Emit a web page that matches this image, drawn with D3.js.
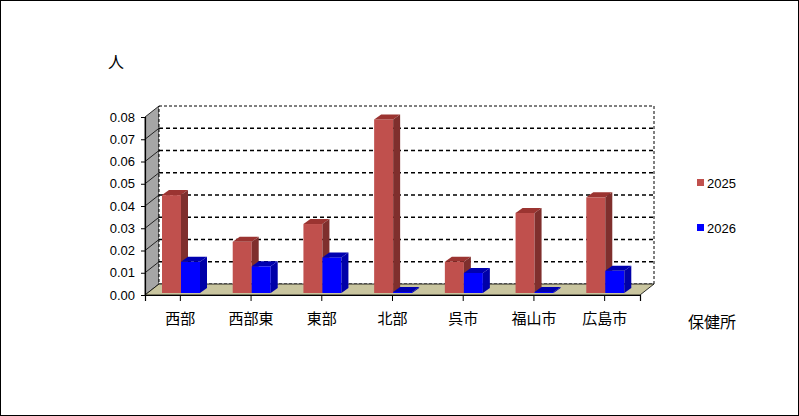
<!DOCTYPE html>
<html><head><meta charset="utf-8">
<script src="https://cdn.jsdelivr.net/npm/d3@7"></script>
<style>body{margin:0;background:#fff}text{font-family:Arial,"Liberation Sans","Noto Sans CJK JP",sans-serif}</style>
</head><body><svg width="799" height="416"></svg>
<script>
// data
var categories = ["西部", "西部東", "東部", "北部", "呉市", "福山市", "広島市"];
var v2025 = [0.044, 0.023, 0.031, 0.078, 0.014, 0.036, 0.043];
var v2026 = [0.014, 0.012, 0.016, 0, 0.009, 0, 0.010];
var yTicks = [0, 0.01, 0.02, 0.03, 0.04, 0.05, 0.06, 0.07, 0.08];

var svg = d3.select("svg");
svg.append("rect").attr("x", 0.5).attr("y", 0.5).attr("width", 798).attr("height", 415)
   .attr("fill", "#fff").attr("stroke", "#000");

var x0 = 145, x1 = 640;
var dx = 14, dy = -11;
var x = d3.scaleBand().domain(categories).range([x0, x1]);
var y = d3.scaleLinear().domain([0, 0.08]).range([295, 117]);

// left wall
svg.append("path").attr("fill", "#a6a6a6").attr("stroke", "#000").attr("stroke-width", 0.8)
   .attr("d", "M" + x0 + "," + y(0) + "L" + x0 + "," + y(0.08) + "L" + (x0 + dx) + "," + (y(0.08) + dy) + "L" + (x0 + dx) + "," + (y(0) + dy) + "Z");
// back wall
svg.append("rect").attr("x", x0 + dx).attr("y", y(0.08) + dy).attr("width", x1 - x0)
   .attr("height", y(0) - y(0.08)).attr("fill", "#fff").attr("stroke", "#000").attr("stroke-dasharray", "3,2");
// floor
svg.append("path").attr("fill", "#c9c59f").attr("stroke", "#000").attr("stroke-width", 0.8)
   .attr("d", "M" + x0 + "," + y(0) + "L" + x1 + "," + y(0) + "L" + (x1 + dx) + "," + (y(0) + dy) + "L" + (x0 + dx) + "," + (y(0) + dy) + "Z");

// grid lines
yTicks.slice(1, -1).forEach(function (t) {
  svg.append("line").attr("x1", x0 + dx).attr("x2", x1 + dx)
     .attr("y1", y(t) + dy).attr("y2", y(t) + dy)
     .attr("stroke", "#000").attr("stroke-width", 1.3).attr("stroke-dasharray", "4,3");
  svg.append("line").attr("x1", x0).attr("x2", x0 + dx)
     .attr("y1", y(t)).attr("y2", y(t) + dy).attr("stroke", "#000").attr("stroke-width", 0.8);
});

// axes
svg.append("g").attr("transform", "translate(" + x0 + ",0)")
   .call(d3.axisLeft(y).tickValues(yTicks).tickFormat(d3.format(".2f")).tickSize(4))
   .call(function (g) {
     g.selectAll("text").attr("font-size", 13).attr("fill", "#000").attr("dx", -3);
     g.select(".domain").attr("stroke-width", 1.2);
   });
svg.append("g").attr("transform", "translate(0," + y(0) + ")")
   .call(d3.axisBottom(x).tickSize(6).tickFormat(""))
   .call(function (g) { g.select(".domain").attr("stroke-width", 1.2); });

// bars
var bw = 19, depth = 7, off = 5;
function bar3d(cx, v, front, top, side) {
  var g = svg.append("g");
  var y0 = y(0) - 2, y1 = y(v) - 2 + (v === 0 ? -1 : 0);
  g.append("rect").attr("x", cx).attr("y", y1).attr("width", bw).attr("height", y0 - y1).attr("fill", front);
  g.append("path").attr("fill", top)
   .attr("d", "M" + cx + "," + y1 + "l" + depth + "," + (-off) + "l" + bw + ",0l" + (-depth) + "," + off + "Z");
  g.append("path").attr("fill", side)
   .attr("d", "M" + (cx + bw) + "," + y1 + "l" + depth + "," + (-off) + "L" + (cx + bw + depth) + "," + (y0 - off) + "L" + (cx + bw) + "," + y0 + "Z");
}
categories.forEach(function (c, i) {
  var bx = x(c) + 17;
  bar3d(bx, v2025[i], "#c0504d", "#9b3431", "#7f2f2d");
  bar3d(bx + bw, v2026[i], "#0000ff", "#0000b0", "#0000a8");
});

// category labels
svg.selectAll(".cat").data(categories).enter().append("text")
   .attr("x", function (d) { return x(d) + x.bandwidth() / 2; }).attr("y", 324)
   .attr("text-anchor", "middle").attr("font-size", 15).text(function (d) { return d; });

svg.append("text").attr("x", 712).attr("y", 328).attr("text-anchor", "middle").attr("font-size", 16).text("保健所");
svg.append("text").attr("x", 116).attr("y", 68).attr("text-anchor", "middle").attr("font-size", 16).text("人");

// legend
var legend = [["2025", "#c0504d"], ["2026", "#0000ff"]];
legend.forEach(function (l, i) {
  var ly = 183 + i * 45;
  svg.append("rect").attr("x", 697).attr("y", ly - 4).attr("width", 7).attr("height", 7).attr("fill", l[1]);
  svg.append("text").attr("x", 707).attr("y", ly + 5).attr("font-size", 13).text(l[0]);
});
</script></body></html>
